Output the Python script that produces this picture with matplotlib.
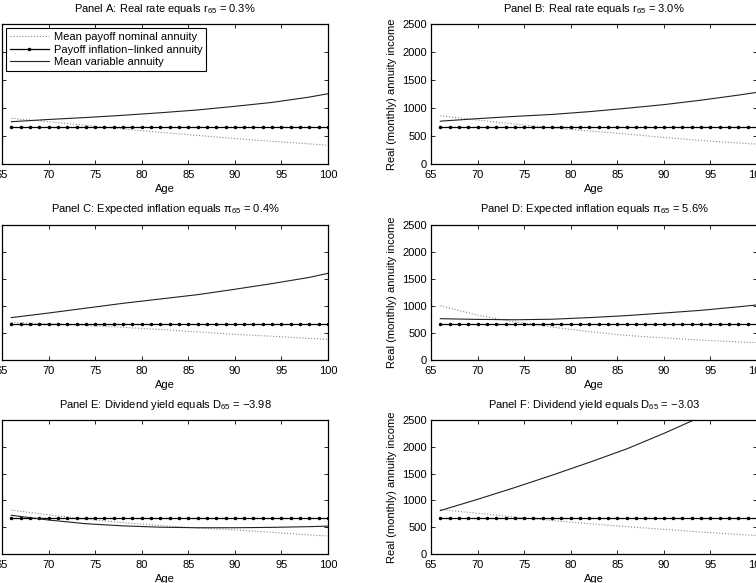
import numpy as np
import matplotlib
matplotlib.use('Agg')
import matplotlib.pyplot as plt

plt.rcParams['font.family'] = ['Liberation Sans', 'DejaVu Sans']
plt.rcParams['mathtext.fontset'] = 'custom'
plt.rcParams['mathtext.rm'] = 'Liberation Sans'
plt.rcParams['mathtext.it'] = 'Liberation Sans'
plt.rcParams['font.size'] = 8

# ages for the smooth curves (knots)
knot_ages = [66, 70, 74, 78, 82, 86, 90, 94, 98, 100]
# ages for the inflation-linked annuity (marker at every age)
all_ages = list(range(66, 101))
linked_payoff = [665, 665, 665, 665, 665, 665, 665, 665, 665, 665,
                 665, 665, 665, 665, 665, 665, 665, 665, 665, 665,
                 665, 665, 665, 665, 665, 665, 665, 665, 665, 665,
                 665, 665, 665, 665, 665]

titles = [
    'Panel A: Real rate equals r$_{65}$ = 0.3%',
    'Panel B: Real rate equals r$_{65}$ = 3.0%',
    'Panel C: Expected inflation equals \u03c0$_{65}$ = 0.4%',
    'Panel D: Expected inflation equals \u03c0$_{65}$ = 5.6%',
    'Panel E: Dividend yield equals D$_{65}$ = \u22123.98',
    'Panel F: Dividend yield equals D$_{65}$ = \u22123.03',
]

nominal_A = [815, 755, 690, 625, 565, 510, 455, 405, 360, 335]
variable_A = [755, 795, 830, 870, 915, 965, 1030, 1100, 1195, 1255]
nominal_B = [860, 785, 712, 645, 590, 535, 475, 420, 375, 355]
variable_B = [765, 810, 850, 885, 935, 995, 1060, 1140, 1230, 1280]
nominal_C = [695, 670, 640, 605, 565, 520, 475, 440, 400, 383]
variable_C = [785, 870, 960, 1050, 1130, 1210, 1310, 1415, 1530, 1605]
nominal_D = [1005, 830, 705, 610, 525, 455, 410, 368, 335, 322]
variable_D = [765, 752, 745, 755, 785, 822, 870, 920, 985, 1020]
nominal_E = [820, 730, 650, 585, 530, 485, 450, 405, 355, 336]
variable_E = [722, 634, 565, 525, 500, 490, 490, 497, 510, 520]
nominal_F = [830, 760, 690, 625, 565, 510, 460, 410, 365, 345]
variable_F = [810, 1020, 1240, 1470, 1710, 1960, 2250, 2560, 2900, 3080]

nominals = [nominal_A, nominal_B, nominal_C, nominal_D, nominal_E, nominal_F]
variables = [variable_A, variable_B, variable_C, variable_D, variable_E, variable_F]

W, H = 756, 583
fig = plt.figure(figsize=(W / 100, H / 100), dpi=100)

# axes boxes in pixels (left, right, top, bottom) - the original figure is cropped
cols = [(2, 328), (431, 757)]
rows = [(24, 164), (225, 360), (420, 554)]

for i in range(6):
    r, c = divmod(i, 2)
    x0, x1 = cols[c]
    y0, y1 = rows[r]
    ax = fig.add_axes([x0 / W, 1 - y1 / H, (x1 - x0) / W, (y1 - y0) / H])

    ax.plot(knot_ages, nominals[i], color='#8a8a8a', linestyle=':', linewidth=0.8,
            label='Mean payoff nominal annuity')
    ax.plot(all_ages, linked_payoff, color='black', linestyle='-', linewidth=0.9,
            marker='.', markersize=3, label='Payoff inflation\u2212linked annuity')
    ax.plot(knot_ages, variables[i], color='#222222', linestyle='-', linewidth=0.8,
            label='Mean variable annuity')

    ax.set_xlim(65, 100)
    ax.set_ylim(0, 2500)
    ax.set_xticks(range(65, 101, 5))
    ax.set_yticks(range(0, 2501, 500))
    ax.tick_params(axis='both', direction='in', top=True, right=True, length=3,
                   width=0.6, labelsize=8)
    ax.tick_params(axis='x', pad=4)
    ax.tick_params(axis='y', pad=3)
    for s in ax.spines.values():
        s.set_linewidth(0.9)
    ax.set_xlabel('Age', labelpad=3)
    ax.set_ylabel('Real (monthly) annuity income', labelpad=4)
    ax.set_title(titles[i], fontsize=8, pad=9)

    if i == 0:
        leg = ax.legend(loc='upper left', fancybox=False, framealpha=1,
                        edgecolor='black', handlelength=3.5, borderaxespad=0.4,
                        labelspacing=0.25, borderpad=0.3, handletextpad=0.5)
        leg.get_frame().set_linewidth(0.8)

fig.savefig('out.png', dpi=100)
